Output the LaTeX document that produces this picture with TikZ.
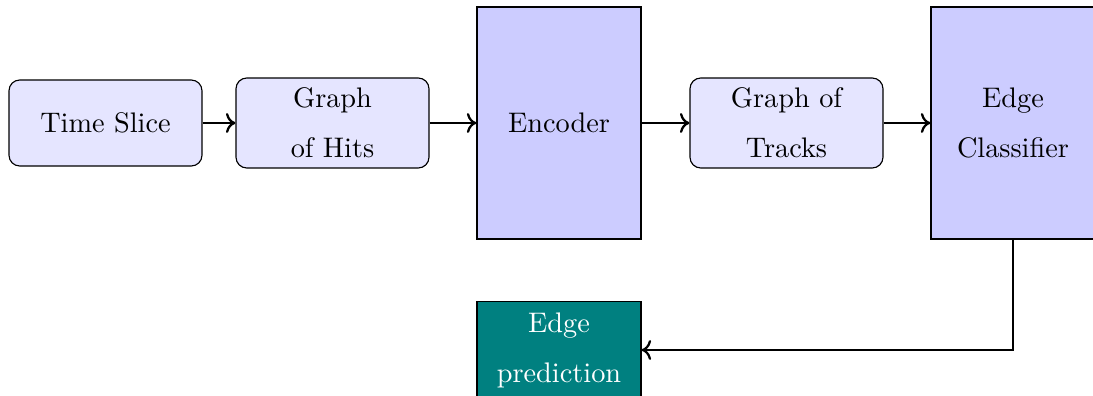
\documentclass[tikz,border=0pt]{standalone}
\usetikzlibrary{arrows.meta}
\begin{document}
\begin{tikzpicture}[x=0.3534pt,y=-0.3534pt,
  every node/.style={font=\fontsize{10pt}{17.7pt}\selectfont, align=center, inner sep=0pt},
  softbox/.style={draw, fill=blue!10, rounded corners=3.8pt, minimum width=68.2pt},
  stagebox/.style={draw, fill=blue!20, minimum width=58pt, minimum height=82pt},
  outbox/.style={draw, fill=teal, text=white, minimum width=58pt, minimum height=34pt},
  flow/.style={->, thick}]
  \useasboundingbox (0,0) rectangle (1093,396);

  \node[softbox, minimum height=30.4pt] (slice) at (105.5,123) {Time Slice};
  \node[softbox, minimum height=31.8pt] (hits) at (332.5,123) {Graph\\of Hits};
  \node[stagebox] (enc) at (559,123) {Encoder};
  \node[softbox, minimum height=31.8pt] (tracks) at (786.5,123) {Graph of\\Tracks};
  \node[stagebox] (cls) at (1013,123) {Edge\\Classifier};
  \node[outbox] (pred) at (559,350) {Edge\\prediction};

  \draw[flow] (slice) -- (hits);
  \draw[flow] (hits) -- (enc);
  \draw[flow] (enc) -- (tracks);
  \draw[flow] (tracks) -- (cls);
  \draw[flow] (cls.south) |- (pred.east);
\end{tikzpicture}
\end{document}
